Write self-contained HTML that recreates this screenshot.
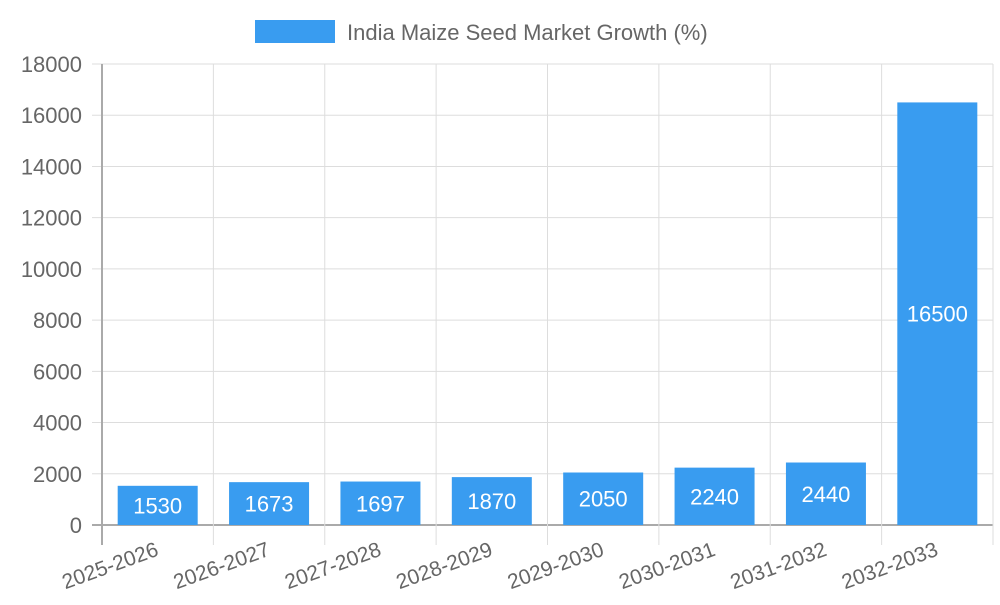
<!DOCTYPE html>
<html><head><meta charset="utf-8"><style>
body{margin:0;background:#fff;font-family:"Liberation Sans",sans-serif}
text{font-family:"Liberation Sans",sans-serif}
</style></head><body>
<svg id="chart" width="1000" height="600" xmlns="http://www.w3.org/2000/svg">
<g>
<rect x="255" y="20" width="80" height="23" fill="#399cf0"/>
<text x="347" y="40" font-size="22" fill="#666">India Maize Seed Market Growth (%)</text>
</g>
<g id="grid"></g><g id="bars"></g><g id="labels"></g>
</svg>
<script>
const categories=["2025-2026","2026-2027","2027-2028","2028-2029","2029-2030","2030-2031","2031-2032","2032-2033"];
const values=[1530,1673,1697,1870,2050,2240,2440,16500];
const yTicks=[0,2000,4000,6000,8000,10000,12000,14000,16000,18000];
const NS="http://www.w3.org/2000/svg";
const x0=102,x1=993,y0=525,y1=64,yMax=18000;
const bw=(x1-x0)/categories.length;
const y=v=>y0-(v/yMax)*(y0-y1);
const xc=i=>x0+bw*(i+0.5);
function mk(tag,attrs,parent){const e=document.createElementNS(NS,tag);for(const k in attrs)e.setAttribute(k,attrs[k]);document.getElementById(parent).appendChild(e);return e;}
yTicks.forEach(t=>{
 const l=mk("line",{x1:x0-10,x2:x1,y1:y(t),y2:y(t),stroke:t===0?"#aaa":"#ddd","stroke-width":t===0?2:1},"grid");
 
 
 const tx=mk("text",{x:x0-20,y:y(t)+8,"text-anchor":"end","font-size":22,fill:"#666"},"grid");
 tx.textContent=t;
 
 
});
for(let i=0;i<=categories.length;i++){
 const gx=x0+bw*i;
 const l=mk("line",{x1:gx,x2:gx,y1:y1,y2:y0+20,stroke:i===0?"#aaa":"#ddd","stroke-width":i===0?2:1},"grid");
 
 
}
categories.forEach((c,i)=>{
 const r=mk("rect",{x:xc(i)-40,y:y(values[i]),width:80,height:y0-y(values[i]),fill:"#399cf0"},"bars");
 
 
 const v=mk("text",{x:xc(i),y:(y(values[i])+y0)/2+8,"text-anchor":"middle","font-size":22,fill:"#fff"},"labels");
 v.textContent=values[i];
 
 
 const t=mk("text",{x:xc(i)+2,y:y0+30,"text-anchor":"end","font-size":21,fill:"#666",transform:`rotate(-20 ${xc(i)+2} ${y0+30})`},"labels");
 t.textContent=c;
 
 
});
</script>
</body></html>
